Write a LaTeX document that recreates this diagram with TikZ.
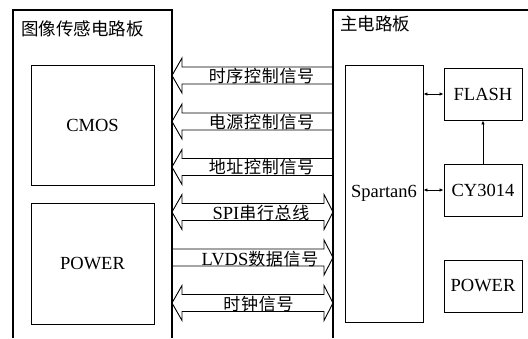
\documentclass[tikz,border=0pt]{standalone}
\usepackage{fontspec}
\setmainfont{Liberation Serif}
\newfontfamily\cjk{Noto Sans CJK SC}
\newfontfamily\cjkl[LetterSpace=4]{Noto Sans CJK SC}
\usetikzlibrary{arrows.meta}
\newcommand\latf{\fontsize{18.5}{20}\selectfont}
\newcommand\cjf{\fontsize{17}{19}\selectfont}
\tikzset{
  board/.style={line width=1.1pt},
  box/.style={draw, line width=0.9pt, rectangle, inner sep=0pt, font=\latf},
  blk/.style={line width=0.9pt, line join=miter},
  lab/.style={inner sep=0pt, anchor=base},
  sarr/.style={line width=0.8pt, {Latex[length=4pt,width=3.5pt]}-{Latex[length=4pt,width=3.5pt]}},
  uarr/.style={line width=0.8pt, -{Latex[length=4pt,width=3.5pt]}},
  ttl/.style={inner sep=0pt, anchor=base west, font=\cjk\fontsize{17.5}{19}\selectfont}
}
\begin{document}
\begin{tikzpicture}[x=1pt,y=-1pt]
\useasboundingbox (0,0) rectangle (528,338);
% boards
\draw[board] (13,338) -- (13,10) -- (172,10) -- (172,338);
\draw[board] (333,338) -- (333,10) -- (528,10);
\node[ttl] (t1) at (21,35) {图像传感电路板};
\node[ttl] (t2) at (340,30) {主电路板};
% left boxes
\node[box, minimum width=123, minimum height=120] (cmos) at (92.5,125) {CMOS};
\node[box, minimum width=123, minimum height=121] (pwl) at (92.5,263.5) {POWER};
% right boxes
\node[box, minimum width=78, minimum height=257] (sp) at (384,193.5) {Spartan6};
\node[box, minimum width=78, minimum height=52] (flash) at (483,94) {FLASH};
\node[box, minimum width=78, minimum height=52] (cy) at (483,190) {CY3014};
\node[box, minimum width=78, minimum height=52] (pwr) at (483,286) {POWER};
\draw[sarr] (flash.west -| sp.east) -- (flash.west);
\draw[sarr] (cy.west -| sp.east) -- (cy.west);
\draw[uarr] (cy.north) -- (flash.south);
% block arrows pointing left
\foreach \c in {75.5,121.5,167}{
  \draw[blk] (333,{\c-8.5}) -- (182,{\c-8.5}) -- (182,{\c-17.5}) -- (172,\c) -- (182,{\c+17.5}) -- (182,{\c+8.5}) -- (333,{\c+8.5});
}
% SPI double arrow
\def\c{212}
\draw[blk] (182,{\c-8.5}) -- (324,{\c-8.5}) -- (324,{\c-17.5}) -- (333,\c) -- (324,{\c+17.5}) -- (324,{\c+8.5}) -- (182,{\c+8.5}) -- (182,{\c+17.5}) -- (172,\c) -- (182,{\c-17.5}) -- cycle;
% LVDS right arrow
\def\c{257.5}
\draw[blk] (172,{\c-8.5}) -- (324,{\c-8.5}) -- (324,{\c-17.5}) -- (333,\c) -- (324,{\c+17.5}) -- (324,{\c+8.5}) -- (172,{\c+8.5});
% clock double arrow
\def\c{303}
\draw[blk] (182,{\c-8.5}) -- (324,{\c-8.5}) -- (324,{\c-17.5}) -- (333,\c) -- (324,{\c+17.5}) -- (324,{\c+8.5}) -- (182,{\c+8.5}) -- (182,{\c+17.5}) -- (172,\c) -- (182,{\c-17.5}) -- cycle;
% labels
\node[lab] (l1) at (261.5,82) {\cjkl\cjf 时序控制信号};
\node[lab] (l2) at (261.5,128) {\cjkl\cjf 电源控制信号};
\node[lab] (l3) at (261.5,173.5) {\cjkl\cjf 地址控制信号};
\node[lab] (l4) at (261,219.5) {\latf SPI\cjkl\cjf 串行总线};
\node[lab] (l5) at (260,265.5) {\latf LVDS\cjkl\cjf 数据信号};
\node[lab] (l6) at (258.5,310) {\cjkl\cjf 时钟信号};
\end{tikzpicture}
\end{document}
